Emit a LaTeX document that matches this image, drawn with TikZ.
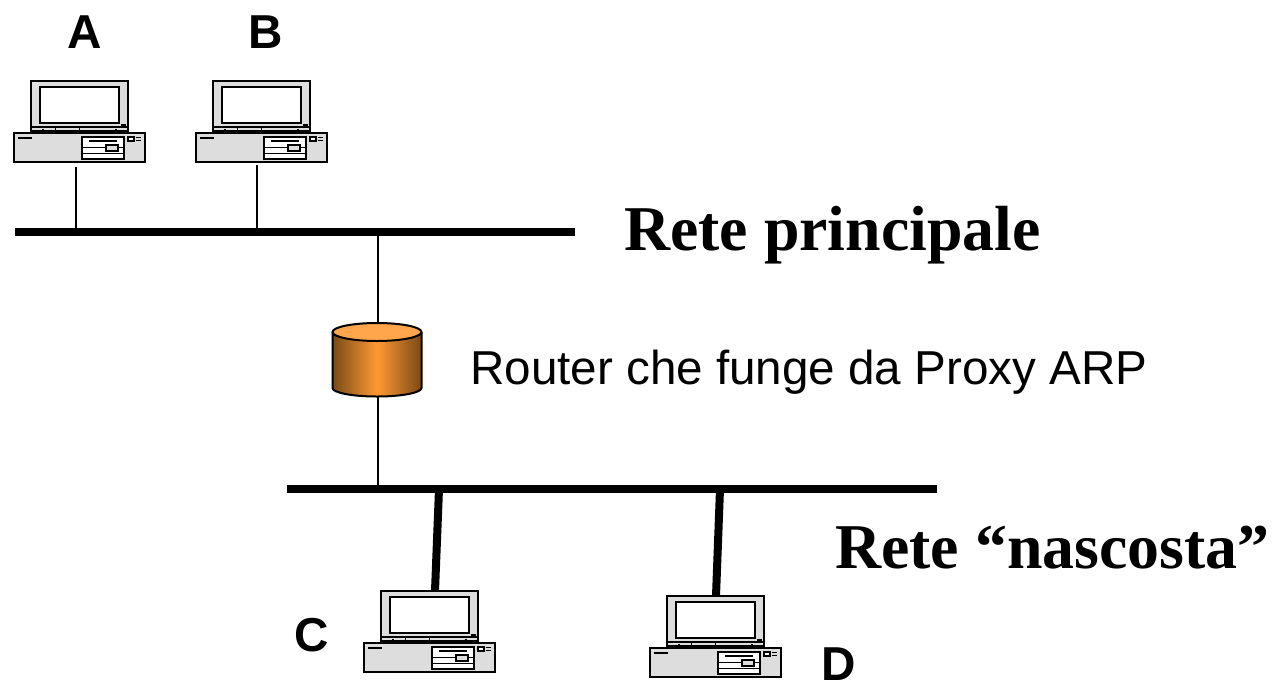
\documentclass[tikz,border=0pt]{standalone}
\usepackage{fontspec}
\setmainfont{Liberation Sans}
\newfontfamily\serifb{Liberation Serif}
\definecolor{pcgray}{HTML}{DDDDDD}
\definecolor{cyldark}{HTML}{7A4A16}
\definecolor{cylmid}{HTML}{FF9933}
\definecolor{cyltop}{HTML}{FFA64D}
\tikzset{
  x=1pt,y=-1pt,
  pcline/.style={draw=black,line width=2pt},
  pcthin/.style={draw=black,line width=1.2pt},
  bus/.style={draw=black,line width=8pt},
  link/.style={draw=black,line width=2pt},
  thicklink/.style={draw=black,line width=8pt},
  hostbox/.style={minimum width=131pt,minimum height=81pt,inner sep=0pt,outer sep=0pt,anchor=north west},
  hostlabel/.style={font=\fontsize{47.6}{48}\selectfont\bfseries,inner sep=0pt,anchor=base},
  netlabel/.style={font=\fontsize{63.8}{64}\selectfont\serifb\bfseries,inner sep=0pt,anchor=base west},
  routerlabel/.style={font=\fontsize{47.6}{48}\selectfont,inner sep=0pt,anchor=base west},
  computer/.pic={
    \path[pcline,fill=pcgray] (16.7,0) rectangle (114,50);
    \path[draw=black,line width=2.6pt,fill=white] (26,6) rectangle (105,42);
    \path[draw=black,line width=1.5pt] (17,46) -- (114,46);
    \path[draw=black,line width=1.2pt] (107,44) -- (112,44);
    \path[draw=black,line width=1pt] (41,46) -- (41,50) (65,46) -- (65,50);
    \path[draw=black,line width=1.8pt] (29,48) -- (29,52) (102,48) -- (102,52);
    \path[draw=black,line width=1.2pt] (29,50.5) -- (102,50.5);
    \path[pcline,fill=pcgray] (0,52) rectangle (131,81);
    \path[pcthin,fill=white] (68,56) rectangle (110,78);
    \path[draw=black,line width=1.8pt] (75,60) -- (103,60);
    \path[draw=black,line width=0.9pt] (68,66) -- (110,66);
    \path[draw=black,line width=0.9pt] (68,72) -- (110,72);
    \path[pcthin,fill=pcgray] (92,64) rectangle (104,70);
    \path[draw=black,line width=2.6pt] (4,57) -- (18,57);
    \path[pcthin,fill=white] (114,56) rectangle (120,60);
    \path[draw=black,line width=1.7pt] (122,56.5) -- (127,56.5) (122,59.5) -- (127,59.5);
  }
}
\begin{document}
\begin{tikzpicture}[x=1pt,y=-1pt]
\useasboundingbox (0,0) rectangle (1273,681);
% hosts
\node[hostbox] (hostA) at (14,81) {};
\node[hostbox] (hostB) at (196,81) {};
\node[hostbox] (hostC) at (364,591) {};
\node[hostbox] (hostD) at (650,596) {};
\pic at (14,81) {computer};
\pic at (196,81) {computer};
\pic at (364,591) {computer};
\pic at (650,596) {computer};
% buses
\coordinate (mainL) at (15,232);
\coordinate (mainR) at (575,232);
\coordinate (hidL) at (287,489);
\coordinate (hidR) at (937,489);
\draw[bus] (mainL) -- (mainR);
\draw[bus] (hidL) -- (hidR);
% router
\coordinate (routerTop) at (377.5,323);
\coordinate (routerBot) at (377.5,396);
\path[left color=cyldark,right color=cyldark,middle color=cylmid]
  (332.5,332) -- (332.5,388) arc[start angle=180,end angle=360,x radius=44.5,y radius=-8.5] -- (421.5,332) arc[start angle=0,end angle=180,x radius=44.5,y radius=-9] -- cycle;
\draw[black,line width=2pt] (332.5,332) -- (332.5,388) arc[start angle=180,end angle=360,x radius=44.5,y radius=-8.5] -- (421.5,332);
\draw[black,line width=2pt,fill=cyltop] (377,332) ellipse[x radius=44.5,y radius=9];
% connectors
\coordinate (tapA) at (75.5,232);
\coordinate (tapB) at (256.5,232);
\coordinate (tapRt) at (377.5,232);
\coordinate (tapRb) at (377.5,489);
\coordinate (tapC) at (439,489);
\coordinate (tapD) at (720,489);
\coordinate (stemA) at (75.5,167);
\coordinate (stemB) at (256.5,165);
\coordinate (stemC) at (435,591);
\coordinate (stemD) at (716,596);
\draw[link] (stemA) -- (tapA);
\draw[link] (stemB) -- (tapB);
\draw[link] (tapRt) -- (routerTop);
\draw[link] (routerBot) -- (tapRb);
\draw[thicklink] (tapC) -- (stemC);
\draw[thicklink] (tapD) -- (stemD);
% labels
\node[hostlabel] (lA) at (84.5,48) {A};
\node[hostlabel] (lB) at (266,48) {B};
\node[hostlabel] (lC) at (312,651) {C};
\node[hostlabel] (lD) at (839,680.5) {D};
\node[netlabel] (lMain) at (624,250) {Rete principale};
\node[netlabel] (lHid) at (835,568.5) {Rete “nascosta”};
\node[routerlabel] (lRouter) at (470,384) {Router che funge da Proxy ARP};
\end{tikzpicture}
\end{document}
